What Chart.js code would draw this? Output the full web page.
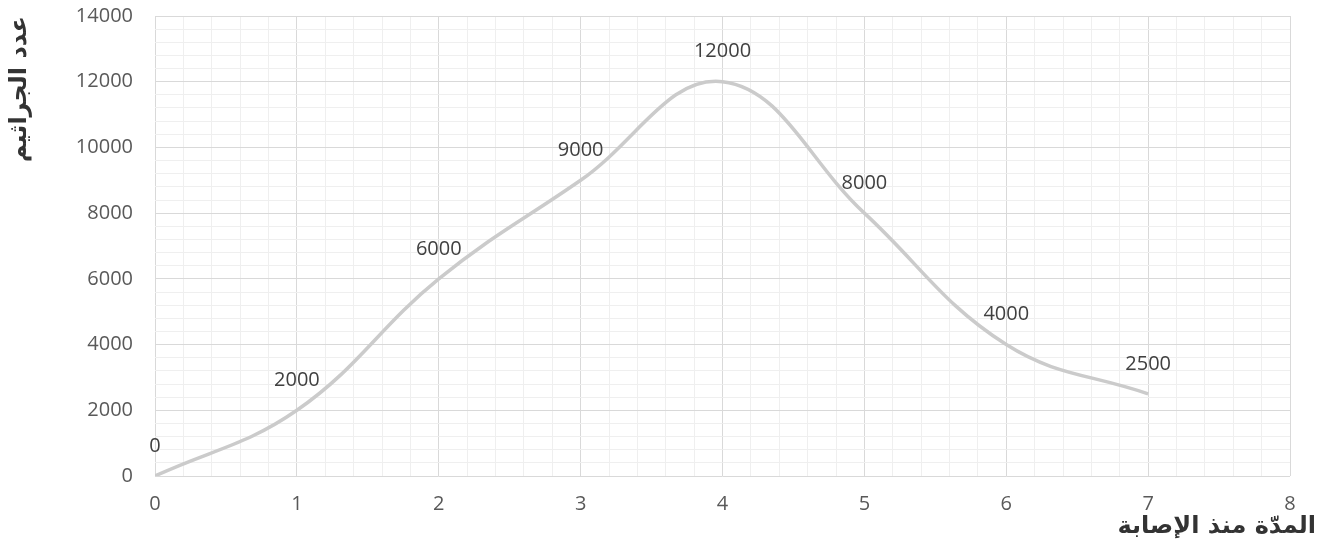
<!DOCTYPE html>
<html>
<head>
<meta charset="utf-8">
<script src="https://cdn.jsdelivr.net/npm/chart.js@4"></script>
<style>
  body { margin: 0; background: #fff; }
  #wrap { width: 1320px; height: 556px; }
</style>
</head>
<body>
<div id="wrap"><canvas id="myChart"></canvas></div>
<script>
// days since infection and the bacteria count
const days = [0, 1, 2, 3, 4, 5, 6, 7]
const germs = [0, 2000, 6000, 9000, 12000, 8000, 4000, 2500]

const yTitle = 'عدد الجراثيم'
const xTitle = 'المدّة منذ الإصابة'

const isMajor = (v, step) => Math.abs(v / step - Math.round(v / step)) < 1e-6

// value labels above each point
const pointLabels = {
    id: 'pointLabels',
    afterDatasetsDraw(chart) {
        const ctx = chart.ctx
        const meta = chart.getDatasetMeta(0)
        ctx.save()
        ctx.font = '20px "Open Sans"'
        ctx.fillStyle = '#404040'
        ctx.textAlign = 'center'
        ctx.textBaseline = 'middle'
        meta.data.forEach((pt, i) => {
            ctx.fillText(String(germs[i]), pt.x, pt.y - 30)
        })
        ctx.restore()
    }
}

// x title sits under the labels, flush right
const xTitlePlugin = {
    id: 'xTitlePlugin',
    afterDraw(chart) {
        const ctx = chart.ctx
        ctx.save()
        ctx.font = 'bold 24px "DejaVu Sans"'
        ctx.fillStyle = '#333333'
        ctx.textAlign = 'right'
        ctx.textBaseline = 'middle'
        ctx.fillText(xTitle, chart.chartArea.right + 26, 527)
        ctx.restore()
    }
}

const canvas = document.getElementById('myChart')

new Chart(canvas, {
    type: 'line',
    data: {
        datasets: [{
            data: days.map((d, i) => ({ x: d, y: germs[i] })),
            borderColor: '#cbcbcb',
            borderWidth: 3.5,
            pointRadius: 0,
            tension: 0.4,
            fill: false,
        }]
    },
    options: {
        responsive: true,
        maintainAspectRatio: false,
        animation: false,
        layout: { padding: { left: 0, right: 30, top: 16, bottom: 0 } },
        plugins: {
            legend: { display: false },
            tooltip: { enabled: false },
        },
        scales: {
            x: {
                type: 'linear',
                min: 0,
                max: 8,
                afterFit: s => { s.height = 80; s.paddingTop = 0 },
                border: { display: false },
                grid: {
                    drawTicks: false,
                    color: c => isMajor(c.tick.value, 1) ? '#d9d9d9' : '#efefef',
                },
                ticks: {
                    stepSize: 0.2,
                    autoSkip: false,
                    maxRotation: 0,
                    padding: 16,
                    color: '#595959',
                    font: { family: 'Open Sans', size: 20 },
                    callback: v => isMajor(v, 1) ? String(Math.round(v)) : '',
                },
            },
            y: {
                min: 0,
                max: 14000,
                afterFit: s => { s.width = 155; s.paddingTop = 0 },
                border: { display: false },
                grid: {
                    drawTicks: false,
                    color: c => isMajor(c.tick.value, 2000) ? '#d9d9d9' : '#efefef',
                },
                ticks: {
                    stepSize: 400,
                    autoSkip: false,
                    padding: 22,
                    color: '#595959',
                    font: { family: 'Open Sans', size: 20 },
                    callback: v => isMajor(v, 2000) ? String(Math.round(v)) : '',
                },
                title: {
                    display: true,
                    text: yTitle,
                    align: 'end',
                    color: '#333333',
                    font: { family: 'DejaVu Sans', size: 24, weight: 'bold' },
                    padding: { top: 5, bottom: 0 },
                },
            },
        },
    },
    plugins: [pointLabels, xTitlePlugin],
})
</script>
</body>
</html>
